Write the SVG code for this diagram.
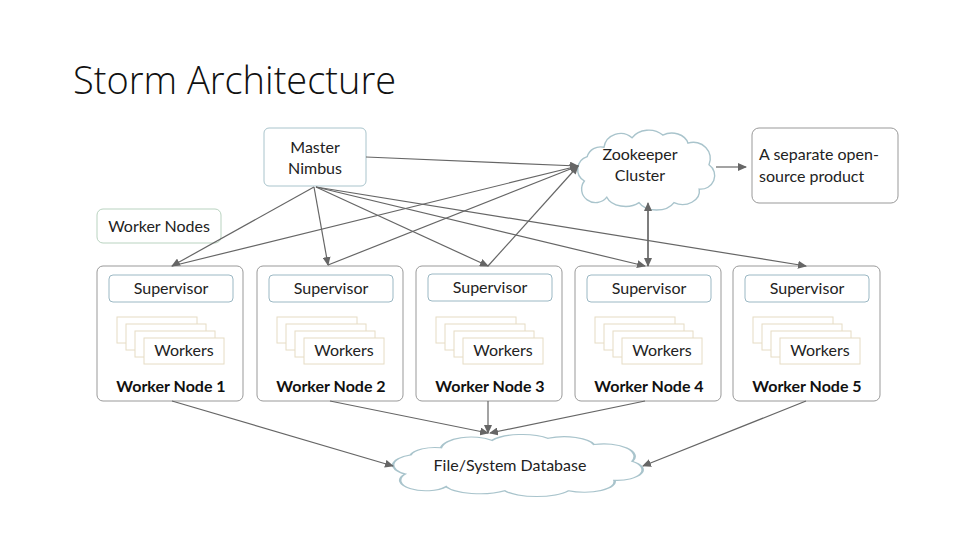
<svg xmlns="http://www.w3.org/2000/svg" width="960" height="540" viewBox="0 0 960 540">
<style>
text{font-family:Lato,"Liberation Sans",sans-serif;fill:#222;text-anchor:middle}
.t{font-size:16px}
.b{font-size:16px;font-weight:bold;fill:#111}
.node{fill:#fff;stroke:#999;stroke-width:1}
.sup{fill:#fff;stroke:#9bb8c4;stroke-width:1}
.blue{fill:#fff;stroke:#a9c4cc;stroke-width:1}
.green{fill:#fff;stroke:#b9d3c0;stroke-width:1}
.wk{fill:#fff;stroke:#e6dcc4;stroke-width:1}
.cloud{fill:#fff;stroke:#a9c4cc;stroke-width:1;vector-effect:non-scaling-stroke}
.c line{stroke:#666;stroke-width:1.2;marker-end:url(#a)}
</style>
<defs>
<marker id="a" markerWidth="9" markerHeight="8" refX="8" refY="4" orient="auto" markerUnits="userSpaceOnUse"><path d="M0,0 L9,4 L0,8 Z" fill="#666"/></marker>
<path id="cl" d="M20,15 A12,12 0 0 1 40,8 A14,12 0 0 1 62,6 A12,10 0 0 1 80,12 A12,12 0 0 1 95,28 A10,10 0 0 1 88,46 A12,10 0 0 1 70,56 A14,10 0 0 1 45,56 A14,10 0 0 1 22,52 A10,10 0 0 1 6,40 A10,10 0 0 1 8,22 A10,10 0 0 1 20,15 Z"/>
<g id="wks">
<rect class="wk" x="0" y="0" width="80" height="26"/>
<rect class="wk" x="9" y="7" width="80" height="26"/>
<rect class="wk" x="18" y="14" width="80" height="26"/>
<rect class="wk" x="27" y="21" width="80" height="26"/>
</g>
</defs>
<text x="73" y="94" style="font-family:'Open Sans','Liberation Sans',sans-serif;font-size:38px;font-weight:300;text-anchor:start;fill:#111">Storm Architecture</text>

<g id="nimbus"><rect class="blue" x="264" y="128" width="102" height="58" rx="5"/><text class="t" x="315" y="153">Master</text><text class="t" x="315" y="174">Nimbus</text></g>
<g id="workernodes"><rect class="green" x="97" y="209" width="124" height="34" rx="6"/><text class="t" x="159" y="232">Worker Nodes</text></g>
<g id="zookeeper"><use href="#cl" class="cloud" transform="translate(576,127) scale(1.4,1.35)"/><text class="t" x="640" y="160">Zookeeper</text><text class="t" x="640" y="181">Cluster</text></g>
<g id="product"><rect class="node" x="752" y="128" width="146" height="75" rx="7"/><text class="t" x="759" y="160" style="text-anchor:start">A separate open-</text><text class="t" x="759" y="182" style="text-anchor:start">source product</text></g>
<g id="database"><use href="#cl" class="cloud" transform="translate(390,432) scale(2.55,1.05)"/><text class="t" x="510" y="471">File/System Database</text></g>

<g id="wn1"><rect class="node" x="97" y="266" width="146" height="135" rx="6"/><rect class="sup" x="109" y="275" width="124" height="27" rx="4"/><text class="t" x="171" y="294">Supervisor</text><use href="#wks" x="117" y="317"/><text class="t" x="184" y="356">Workers</text><text class="b" x="171" y="392">Worker Node 1</text></g>
<g id="wn2"><rect class="node" x="257" y="266" width="146" height="135" rx="6"/><rect class="sup" x="269" y="275" width="124" height="27" rx="4"/><text class="t" x="331" y="294">Supervisor</text><use href="#wks" x="277" y="317"/><text class="t" x="344" y="356">Workers</text><text class="b" x="331" y="392">Worker Node 2</text></g>
<g id="wn3"><rect class="node" x="416" y="266" width="146" height="135" rx="6"/><rect class="sup" x="428" y="274" width="124" height="27" rx="4"/><text class="t" x="490" y="293">Supervisor</text><use href="#wks" x="436" y="317"/><text class="t" x="503" y="356">Workers</text><text class="b" x="490" y="392">Worker Node 3</text></g>
<g id="wn4"><rect class="node" x="575" y="266" width="146" height="135" rx="6"/><rect class="sup" x="587" y="275" width="124" height="27" rx="4"/><text class="t" x="649" y="294">Supervisor</text><use href="#wks" x="595" y="317"/><text class="t" x="662" y="356">Workers</text><text class="b" x="649" y="392">Worker Node 4</text></g>
<g id="wn5"><rect class="node" x="733" y="266" width="147" height="135" rx="6"/><rect class="sup" x="745" y="275" width="124" height="27" rx="4"/><text class="t" x="807" y="294">Supervisor</text><use href="#wks" x="753" y="317"/><text class="t" x="820" y="356">Workers</text><text class="b" x="807" y="392">Worker Node 5</text></g>

<g id="connectors" class="c">
<line x1="366" y1="157" x2="578" y2="166"/>
<line x1="716" y1="167" x2="746" y2="167"/>
<line x1="314" y1="187" x2="172" y2="266"/>
<line x1="314" y1="187" x2="328" y2="265"/>
<line x1="316" y1="187" x2="488" y2="266"/>
<line x1="316" y1="187" x2="645" y2="266"/>
<line x1="316" y1="187" x2="806" y2="266"/>
<line x1="172" y1="266" x2="578" y2="166"/>
<line x1="328" y1="265" x2="578" y2="166"/>
<line x1="488" y1="266" x2="578" y2="166"/>
<line x1="648" y1="266" x2="648" y2="203"/>
<line x1="648" y1="210" x2="648" y2="266"/>
<line x1="172" y1="401" x2="393" y2="466"/>
<line x1="330" y1="401" x2="488" y2="433"/>
<line x1="488" y1="401" x2="488" y2="433"/>
<line x1="645" y1="401" x2="490" y2="433"/>
<line x1="806" y1="401" x2="643" y2="466"/>
</g>
</svg>
